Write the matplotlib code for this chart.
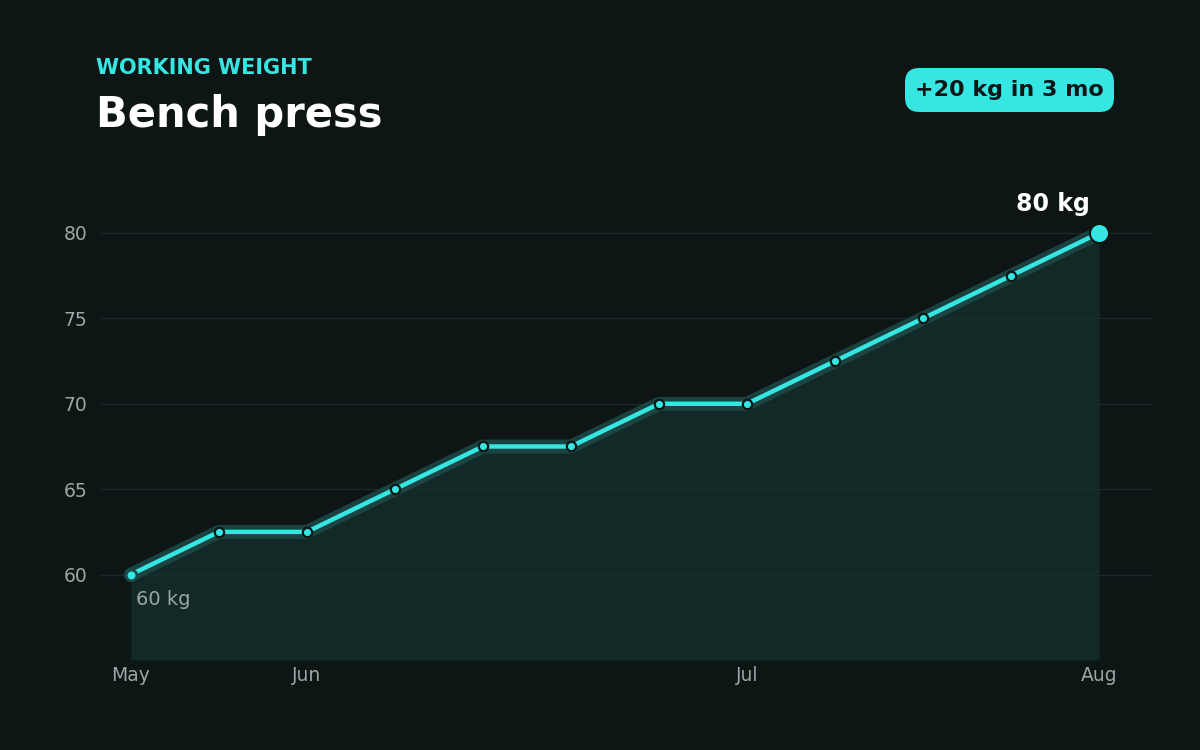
import numpy as np
import matplotlib.pyplot as plt
from matplotlib.patches import FancyBboxPatch

# weekly working weight, kg
weeks = np.arange(12)
weight = [60, 62.5, 62.5, 65, 67.5, 67.5, 70, 70, 72.5, 75, 77.5, 80]
tick_pos = [0, 2, 7, 11]
tick_labels = ['May', 'Jun', 'Jul', 'Aug']
y_ticks = [60, 65, 70, 75, 80]

bg = '#0d1515'
cyan = '#35e6e2'
grey = '#9aa7a5'

fig = plt.figure(figsize=(12, 7.5), dpi=100, facecolor=bg)
ax = fig.add_axes([100 / 1200, 0.12, 1052 / 1200, (660 - 181.7) / 750])
ax.set_facecolor(bg)

ax.fill_between(weeks, weight, 55, color='#16302e', alpha=0.75, lw=0, zorder=1)
ax.plot(weeks, weight, color='#1d4a48', lw=10, solid_capstyle='round',
        solid_joinstyle='round', alpha=0.85, zorder=2)
ax.plot(weeks, weight, color=cyan, lw=3.2, solid_joinstyle='round', zorder=3)
ax.scatter(weeks[1:-1], weight[1:-1], s=45, color=cyan, edgecolor='#0d1515',
           linewidth=1.6, zorder=4)
ax.scatter([weeks[0]], [weight[0]], s=60, color=cyan, edgecolor='#1d4a48',
           linewidth=2, zorder=4)
ax.scatter([weeks[-1]], [weight[-1]], s=190, color=cyan, edgecolor=bg,
           linewidth=1.5, zorder=5)

ax.set_xlim(-0.35, 11.6)
ax.set_ylim(55, 83)
ax.set_xticks(tick_pos)
ax.set_xticklabels(tick_labels)
ax.set_yticks(y_ticks)
ax.tick_params(colors=grey, labelsize=13.5, length=0)
ax.tick_params(axis='x', pad=4)
ax.tick_params(axis='y', pad=9)
ax.grid(axis='y', color='#1c2827', lw=1)
ax.set_axisbelow(True)
for s in ax.spines.values():
    s.set_visible(False)

ax.annotate('80 kg', (weeks[-1], weight[-1]), xytext=(-7, 12),
            textcoords='offset points', ha='right', va='bottom',
            color='white', fontsize=17, fontweight='bold')
ax.annotate('60 kg', (weeks[0], weight[0]), xytext=(4, -11),
            textcoords='offset points', ha='left', va='top',
            color=grey, fontsize=14)

fig.text(96 / 1200, 1 - 68 / 750, 'WORKING WEIGHT', color=cyan, fontsize=15,
         fontweight='bold', va='center', ha='left')
fig.text(96 / 1200, 1 - 115 / 750, 'Bench press', color='white', fontsize=30,
         fontweight='bold', va='center', ha='left')

badge = FancyBboxPatch((905 / 1200, 1 - 112 / 750), 209 / 1200, 44 / 750,
                       boxstyle='round,pad=0,rounding_size=0.012',
                       transform=fig.transFigure, facecolor=cyan,
                       edgecolor='none', mutation_aspect=1.6)
fig.patches.append(badge)
fig.text(1009 / 1200, 1 - 90 / 750, '+20 kg in 3 mo', color='#0d1515',
         fontsize=16, fontweight='bold', va='center', ha='center')

fig.savefig('out.png', dpi=100, facecolor=bg)
